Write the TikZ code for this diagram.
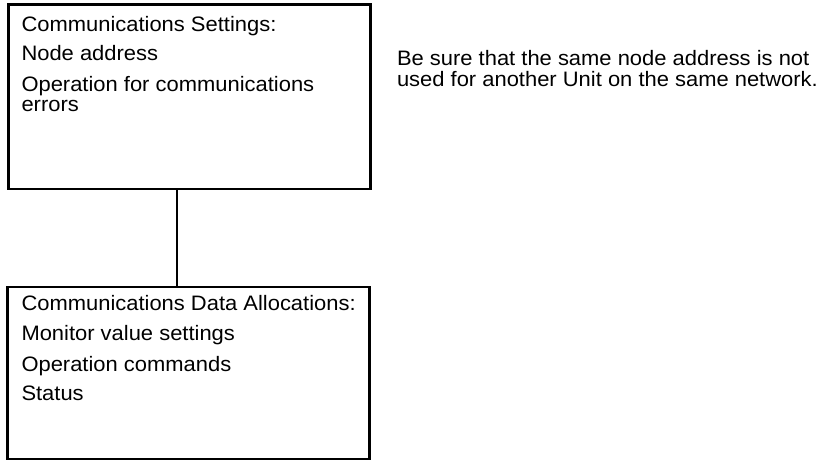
\documentclass[tikz,border=0pt]{standalone}
\usepackage{fontspec}
\setmainfont{Liberation Sans}[FakeStretch=1.05]
\begin{document}
\begin{tikzpicture}[x=1pt,y=-1pt,
  box/.style={draw=black,line width=2.2pt,inner sep=0pt,outer sep=0pt},
  txt/.style={anchor=base west,inner sep=0pt,outer sep=0pt,text=black},
  link/.style={draw=black,line width=2.2pt},
  every node/.append style={font=\fontsize{20.9}{21}\selectfont}]
\useasboundingbox[fill=white] (0,0) rectangle (823,464);
% boxes
\node[box,minimum width=362pt,minimum height=184.5pt,anchor=north west] (top) at (8.5,4.5) {};
\node[box,minimum width=362pt,minimum height=172pt,anchor=north west] (bot) at (7.5,287) {};
% connector
\coordinate (c) at (177,0);
\draw[link] (c |- top.south) -- (c |- bot.north);
% top box text
\node[txt] (t1) at (21.5,31) {Communications Settings:};
\node[txt] (t2) at (21.5,60) {Node address};
\node[txt] (t3) at (21.5,91) {Operation for communications};
\node[txt] (t4) at (21.5,111.5) {errors};
% bottom box text
\node[txt] (b1) at (21.5,310.5) {Communications Data Allocations:};
\node[txt] (b2) at (21.5,340.5) {Monitor value settings};
\node[txt] (b3) at (21.5,371) {Operation commands};
\node[txt] (b4) at (21.5,400.5) {Status};
% note
\node[txt] (n1) at (397,65) {Be sure that the same node address is not};
\node[txt] (n2) at (397,86) {used for another Unit on the same network.};
\end{tikzpicture}
\end{document}
